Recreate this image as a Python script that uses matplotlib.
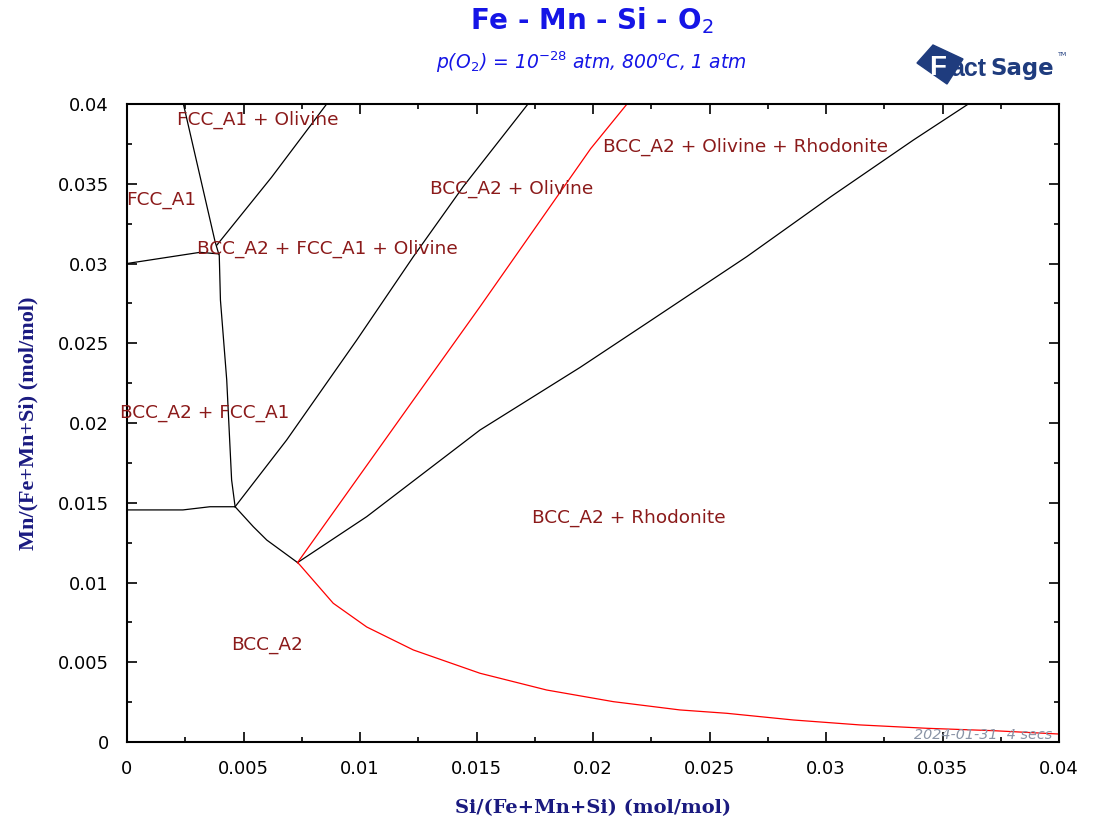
import numpy as np
import matplotlib
matplotlib.use("Agg")
import matplotlib.pyplot as plt
from matplotlib.ticker import MultipleLocator, FuncFormatter
from matplotlib.patches import Polygon

plt.rcParams['font.family'] = ['DejaVu Sans']

# phase boundaries (Si, Mn mole fractions)
fcc_x = [0.00242, 0.00378, 0.00396, 0.00401, 0.00428, 0.00449, 0.00464]
fcc_y = [0.0400, 0.03137, 0.03049, 0.02771, 0.02270, 0.01643, 0.01475]

upper_h_x = [0.0, 0.00313, 0.00396]
upper_h_y = [0.0300, 0.0307, 0.0306]

oliv1_x = [0.00386, 0.0062, 0.00857]
oliv1_y = [0.03116, 0.0354, 0.0400]

oliv2_x = [0.00464, 0.00685, 0.00986, 0.01229, 0.01443, 0.01721]
oliv2_y = [0.01475, 0.01893, 0.02520, 0.03043, 0.03482, 0.0400]

lower_h_x = [0.0, 0.0024, 0.00356, 0.00464]
lower_h_y = [0.01455, 0.01455, 0.01475, 0.01475]

bcc_curve_x = [0.00464, 0.00542, 0.0060, 0.00732]
bcc_curve_y = [0.01475, 0.0135, 0.01266, 0.01125]

red_up_x = [0.00732, 0.01229, 0.01515, 0.01990, 0.02146]
red_up_y = [0.01125, 0.02144, 0.02729, 0.03720, 0.0400]

rhod_x = [0.00732, 0.01029, 0.01515, 0.01944, 0.02230, 0.02660, 0.03021, 0.03375, 0.03611]
rhod_y = [0.01125, 0.01413, 0.01956, 0.02348, 0.02625, 0.03043, 0.03419, 0.03774, 0.0400]

red_low_x = [0.00732, 0.00742, 0.00885, 0.01029, 0.01229, 0.01515, 0.01801, 0.02087,
             0.02373, 0.02574, 0.0286, 0.03146, 0.03432, 0.03718, 0.0400]
red_low_y = [0.01125, 0.0111, 0.0087, 0.00721, 0.00577, 0.00431, 0.00326, 0.00253,
             0.00201, 0.0018, 0.00138, 0.00107, 0.00086, 0.00071, 0.0005]

labels = ["FCC_A1 + Olivine", "FCC_A1", "BCC_A2 + FCC_A1 + Olivine", "BCC_A2 + Olivine",
          "BCC_A2 + Olivine + Rhodonite", "BCC_A2 + FCC_A1", "BCC_A2 + Rhodonite", "BCC_A2"]
label_x = [0.00215, -0.00005, 0.0030, 0.0130, 0.02043, -0.0003, 0.01738, 0.00446]
label_y = [0.0390, 0.0340, 0.0309, 0.0347, 0.0373, 0.0206, 0.01404, 0.00608]

W, H = 1093, 826
fig = plt.figure(figsize=(W / 100, H / 100), dpi=100)
ax = fig.add_axes([127 / W, 1 - 742 / H, 932 / W, 638 / H])

black = [(fcc_x, fcc_y), (upper_h_x, upper_h_y), (oliv1_x, oliv1_y), (oliv2_x, oliv2_y),
         (lower_h_x, lower_h_y), (bcc_curve_x, bcc_curve_y), (rhod_x, rhod_y)]
for xs, ys in black:
    ax.plot(xs, ys, color='black', lw=0.9)
for xs, ys in [(red_up_x, red_up_y), (red_low_x, red_low_y)]:
    ax.plot(xs, ys, color='#ff0000', lw=0.9)

for t, x, y in zip(labels, label_x, label_y):
    ax.text(x, y, t, color='#8b1a1a', fontsize=13.3, ha='left', va='center')

ax.set_xlim(0, 0.04)
ax.set_ylim(0, 0.04)
fmt = FuncFormatter(lambda v, p: f"{v:g}")
for a in (ax.xaxis, ax.yaxis):
    a.set_major_locator(MultipleLocator(0.005))
    a.set_minor_locator(MultipleLocator(0.0025))
    a.set_major_formatter(fmt)
ax.tick_params(which='both', direction='in', top=True, right=True, width=1.2, labelsize=13)
ax.tick_params(which='major', length=7)
ax.tick_params(which='minor', length=3.5)
ax.tick_params(axis='x', pad=13)
ax.tick_params(axis='y', pad=13)
for s in ax.spines.values():
    s.set_linewidth(1.5)

navy = '#1a1a80'
ax.set_xlabel('Si/(Fe+Mn+Si) (mol/mol)', family='DejaVu Serif', fontweight='bold',
              fontsize=14, color=navy, labelpad=15)
ax.set_ylabel('Mn/(Fe+Mn+Si) (mol/mol)', family='Liberation Serif', fontweight='bold',
              fontsize=16, color=navy, labelpad=14)

blue = '#1515e6'
fig.text(592 / W, 1 - 21 / H, 'Fe - Mn - Si - O$_2$', ha='center', va='center',
         fontsize=20, fontweight='bold', color=blue)
fig.text(591 / W, 1 - 62 / H, r'$p$(O$_2$) = 10$^{-28}$ atm, 800$^o$C, 1 atm', ha='center',
         va='center', fontsize=13.5, fontstyle='italic', color=blue,
         math_fontfamily='dejavusans')

# FactSage logo
logo_navy = '#1f3c7e'
pts = [(917, 63), (933, 45), (963, 59), (947, 84)]
logo = Polygon([(x / W, 1 - y / H) for x, y in pts], closed=True,
               transform=fig.transFigure, color=logo_navy, zorder=1)
fig.patches.append(logo)
fig.text(929 / W, 1 - 68 / H, 'F', fontsize=20, fontweight='bold', color='white',
         ha='left', va='center', family='Liberation Sans', zorder=2)
fig.text(950 / W, 1 - 69 / H, 'act', fontsize=18, fontweight='bold', color=logo_navy,
         ha='left', va='center', family='Liberation Sans', zorder=2)
fig.text(990 / W, 1 - 69 / H, 'Sage', fontsize=16.5, fontweight='bold', color=logo_navy,
         ha='left', va='center', family='Liberation Sans Narrow', zorder=2)
fig.text(1058 / W, 1 - 55 / H, 'TM', fontsize=4.5, color=logo_navy, ha='left', va='center')

ax.text(0.0397, 0.00045, '2024-01-31  4 secs', ha='right', va='center', fontsize=10.4,
        fontstyle='italic', color='#8a94a6')

fig.savefig('out.png', dpi=100)
